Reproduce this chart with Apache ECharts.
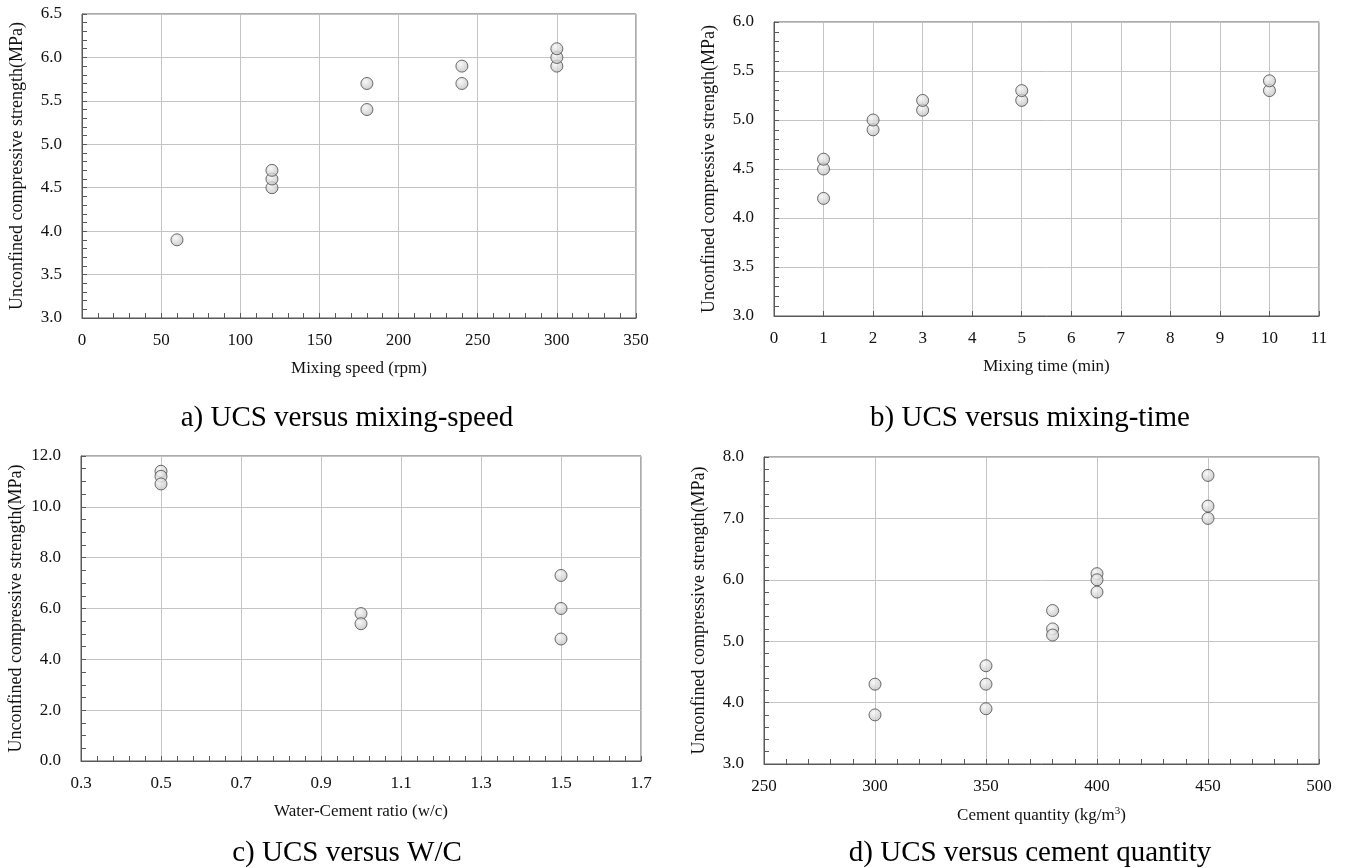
<!DOCTYPE html>
<html>
<head>
<meta charset="utf-8">
<title>UCS charts</title>
<script src="https://cdn.jsdelivr.net/npm/echarts@6/dist/echarts.min.js"></script>
<style>
html, body { margin: 0; padding: 0; background: #fff; }
#main { width: 1345px; height: 868px; }
</style>
</head>
<body>
<div id="main"></div>
<script>
"use strict";
// a) 搅拌速度
var speedX = [60, 120, 120, 120, 180, 180, 240, 240, 300, 300, 300];
var speedY = [3.9, 4.5, 4.6, 4.7, 5.4, 5.7, 5.7, 5.9, 5.9, 6.0, 6.1];
// b) 搅拌时间
var timeX = [1, 1, 1, 2, 2, 3, 3, 5, 5, 10, 10];
var timeY = [4.2, 4.5, 4.6, 4.9, 5.0, 5.1, 5.2, 5.2, 5.3, 5.3, 5.4];
// c) 水灰比
var wcX = [0.5, 0.5, 0.5, 1.0, 1.0, 1.5, 1.5, 1.5];
var wcY = [11.4, 11.2, 10.9, 5.8, 5.4, 7.3, 6.0, 4.8];
// d) 水泥用量
var cementX = [300, 300, 350, 350, 350, 380, 380, 380, 400, 400, 400, 450, 450, 450];
var cementY = [4.3, 3.8, 4.6, 4.3, 3.9, 5.5, 5.2, 5.1, 6.1, 6.0, 5.8, 7.7, 7.2, 7.0];

var captions = ['a) UCS versus mixing-speed', 'b) UCS versus mixing-time',
                'c) UCS versus W/C', 'd) UCS versus cement quantity'];
var xNames = ['Mixing speed (rpm)', 'Mixing time (min)',
              'Water-Cement ratio (w/c)', 'Cement quantity (kg/m{sup|3})'];
var yName = 'Unconfined compressive strength(MPa)';

var FONT = 'Liberation Serif';
var FRAME = '#595959';
var GRIDLINE = '#c4c4c4';

function pairs(xs, ys) {
	var out = [];
	for (var i = 0; i < xs.length; i++) {
		out.push([xs[i], ys[i]]);
	}
	return out;
}

// 坐标轴通用设置
function xAxisOf(idx, min, max, interval, minorSplit, decimals, nameGap) {
	return {
		type: 'value', gridIndex: idx, min: min, max: max, interval: interval,
		name: xNames[idx], nameLocation: 'middle', nameGap: nameGap,
		nameTextStyle: { fontFamily: FONT, fontSize: 17, color: '#111',
			rich: { sup: { fontFamily: FONT, fontSize: 11, verticalAlign: 'top', padding: [0, 0, 8, 0], color: '#111' } } },
		axisLine: { show: true, onZero: false, lineStyle: { color: FRAME, width: 1 } },
		axisTick: { show: true, inside: true, length: 5, lineStyle: { color: FRAME } },
		minorTick: { show: minorSplit > 0, splitNumber: minorSplit || 5, length: 5, lineStyle: { color: FRAME } },
		axisLabel: { fontFamily: FONT, fontSize: 17, color: '#111', margin: 14,
			formatter: function (v) { return v.toFixed(decimals); } },
		splitLine: { show: true, lineStyle: { color: GRIDLINE, width: 1 } }
	};
}

function yAxisOf(idx, min, max, interval, minorSplit) {
	return {
		type: 'value', gridIndex: idx, min: min, max: max, interval: interval,
		name: yName, nameLocation: 'middle', nameGap: 56,
		nameTextStyle: { fontFamily: FONT, fontSize: 18, color: '#111' },
		axisLine: { show: true, onZero: false, lineStyle: { color: FRAME, width: 1 } },
		axisTick: { show: true, inside: true, length: 5, lineStyle: { color: FRAME } },
		minorTick: { show: true, splitNumber: minorSplit, length: 5, lineStyle: { color: FRAME } },
		axisLabel: { fontFamily: FONT, fontSize: 17, color: '#111', margin: 20,
			formatter: function (v) { return v.toFixed(1); } },
		splitLine: { show: true, lineStyle: { color: GRIDLINE, width: 1 } }
	};
}

var marker = {
	color: {
		type: 'radial', x: 0.4, y: 0.35, r: 0.7,
		colorStops: [{ offset: 0, color: '#f7f7f7' }, { offset: 1, color: '#bdbdbd' }]
	},
	borderColor: '#4a4a4a',
	borderWidth: 1
};

function seriesOf(idx, xs, ys) {
	return {
		type: 'scatter', xAxisIndex: idx, yAxisIndex: idx,
		symbol: 'circle', symbolSize: 12,
		itemStyle: marker,
		emphasis: { disabled: true },
		data: pairs(xs, ys)
	};
}

var gridBox = { show: true, borderColor: FRAME, borderWidth: 1, backgroundColor: '#fff' };

var myChart = echarts.init(document.getElementById('main'), null, { renderer: 'canvas' });
var option = {
	animation: false,
	backgroundColor: '#fff',
	textStyle: { fontFamily: FONT },
	title: [
		{ text: captions[0], left: 347, top: 402, textAlign: 'center' },
		{ text: captions[1], left: 1030, top: 402, textAlign: 'center' },
		{ text: captions[2], left: 347, top: 837, textAlign: 'center' },
		{ text: captions[3], left: 1030, top: 837, textAlign: 'center' }
	].map(function (t) {
		t.padding = 0;
		t.textStyle = { fontFamily: FONT, fontSize: 29, fontWeight: 'normal', color: '#000', lineHeight: 32 };
		return t;
	}),
	grid: [
		Object.assign({ left: 82, top: 14, width: 554, height: 304 }, gridBox),
		Object.assign({ left: 774, top: 22, width: 545, height: 294 }, gridBox),
		Object.assign({ left: 81, top: 456, width: 560, height: 305 }, gridBox),
		Object.assign({ left: 764, top: 457, width: 555, height: 307 }, gridBox)
	],
	xAxis: [
		xAxisOf(0, 0, 350, 50, 5, 0, 42),
		xAxisOf(1, 0, 11, 1, 0, 0, 42),
		xAxisOf(2, 0.3, 1.7, 0.2, 5, 1, 42),
		xAxisOf(3, 250, 500, 50, 5, 0, 42)
	],
	yAxis: [
		yAxisOf(0, 3.0, 6.5, 0.5, 5),
		yAxisOf(1, 3.0, 6.0, 0.5, 5),
		yAxisOf(2, 0, 12, 2, 4),
		yAxisOf(3, 3.0, 8.0, 1.0, 5)
	],
	series: [
		seriesOf(0, speedX, speedY),
		seriesOf(1, timeX, timeY),
		seriesOf(2, wcX, wcY),
		seriesOf(3, cementX, cementY)
	]
};
myChart.setOption(option);
</script>
</body>
</html>
